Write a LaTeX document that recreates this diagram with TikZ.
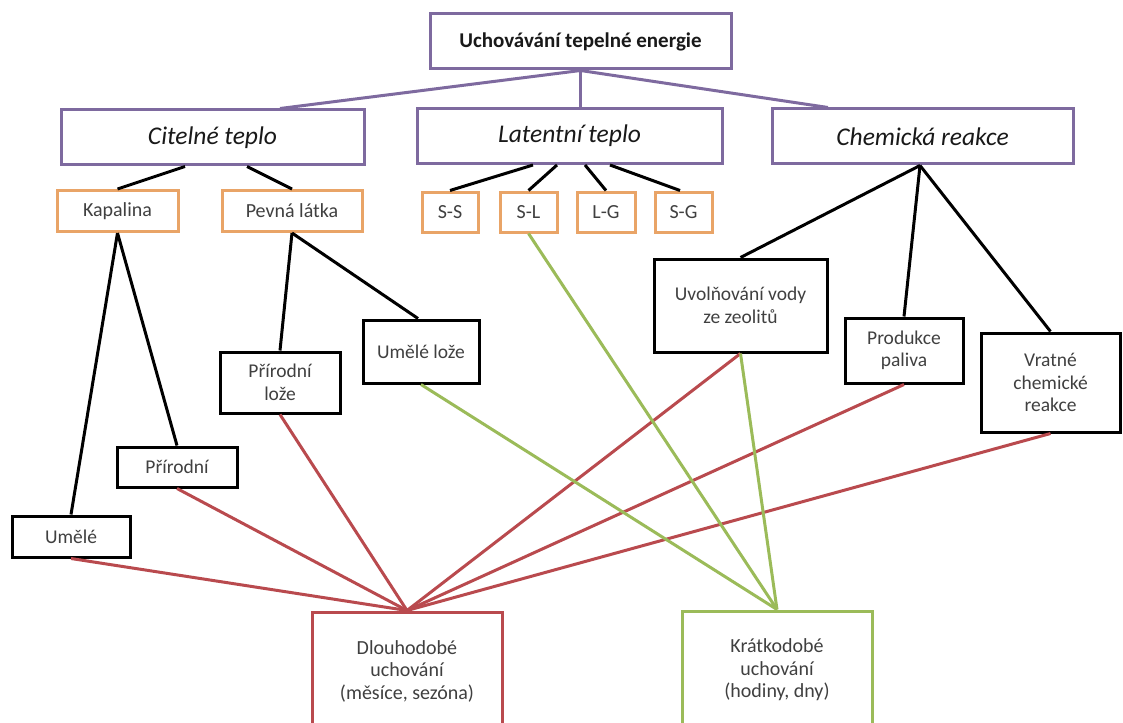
\documentclass[tikz,border=0pt]{standalone}
\usepackage{fontspec}
\setmainfont{Carlito}
\usepackage{xcolor}
\usetikzlibrary{positioning}

\definecolor{lila}{HTML}{7E6A9F}
\definecolor{oranz}{HTML}{E9A467}
\definecolor{cerv}{HTML}{B94A4E}
\definecolor{zel}{HTML}{9BBB59}

\begin{document}
\begin{tikzpicture}[
  x=1pt, y=-1pt,
  box/.style={draw, line width=3pt, fill=white, align=center, inner sep=2pt, text=black!75},
  head/.style={box, draw=lila, minimum height=55pt, text=black!90, font=\fontsize{25.5}{29}\selectfont\itshape},
  sub/.style={box, draw=oranz, minimum height=41pt, font=\fontsize{20}{23}\selectfont},
  leaf/.style={box, draw=black, font=\fontsize{19.5}{22.5}\selectfont},
  longst/.style={box, draw=cerv, minimum width=190pt, minimum height=118pt, font=\fontsize{20}{22.5}\selectfont},
  shortst/.style={box, draw=zel, minimum width=190pt, minimum height=118pt, font=\fontsize{20}{22.5}\selectfont},
  pline/.style={line width=3pt, lila},
  bline/.style={line width=3pt, black},
  rline/.style={line width=3pt, cerv},
  gline/.style={line width=3pt, zel},
]
\useasboundingbox (0,0) rectangle (1123,722);
\clip (0,0) rectangle (1123,722);
% top
\node[box, draw=lila, minimum width=301pt, minimum height=55pt, text=black!90,
      font=\fontsize{21}{25}\selectfont\bfseries] (top) at (580.5,41.5) {Uchovávání tepelné energie};
% three kinds of storage
\node[head, minimum width=303pt] (cit) at (212.5,137.5) {Citelné teplo};
\node[head, minimum width=305pt] (lat) at (569.5,136) {Latentní teplo};
\node[head, minimum width=301pt] (chem) at (922.5,136.5) {Chemická reakce};
% sensible heat
\node[sub, minimum width=121pt] (kap) at (117.5,211) {Kapalina};
\node[sub, minimum width=140pt] (pev) at (292,211) {Pevná látka};
\node[leaf, minimum width=118pt, minimum height=41pt] (umele) at (71,536.5) {Umělé};
\node[leaf, minimum width=120pt, minimum height=40pt] (prir) at (177,467) {Přírodní};
\node[leaf, minimum width=120pt, minimum height=61pt] (prlo) at (280,382.5) {Přírodní\\lože};
\node[leaf, minimum width=116pt, minimum height=63pt] (umlo) at (421,351.5) {Umělé lože};
% latent heat
\node[sub, minimum width=56pt, minimum height=40pt] (ss) at (450,212) {S-S};
\node[sub, minimum width=57pt, minimum height=40pt] (sl) at (528.5,212) {S-L};
\node[sub, minimum width=58pt, minimum height=40pt] (lg) at (606,212) {L-G};
\node[sub, minimum width=57pt, minimum height=40pt] (sg) at (683.5,212) {S-G};
% chemical reaction
\node[leaf, minimum width=173pt, minimum height=93pt] (uvol) at (740.5,305.5) {Uvolňování vody\\ze zeolitů};
\node[leaf, minimum width=118pt, minimum height=65pt] (prod) at (904,350.5) {Produkce\\paliva};
\node[leaf, minimum width=139pt, minimum height=99pt] (vrat) at (1050.5,382.5) {Vratné\\chemické\\reakce};
% duration
\node[longst] (dlou) at (407,671) {Dlouhodobé\\uchování\\(měsíce, sezóna)};
\node[shortst] (krat) at (777,670) {Krátkodobé\\uchování\\(hodiny, dny)};
% purple links
\draw[pline] (top.south) -- ([xshift=67.5pt]cit.north);
\draw[pline] (top.south) -- (top.south |- lat.north);
\draw[pline] (top.south) -- ([xshift=-94.5pt]chem.north);
% black links
\draw[bline] ([xshift=-27.5pt]cit.south) -- (kap.north);
\draw[bline] ([xshift=34.5pt]cit.south) -- (pev.north);
\draw[bline] ([xshift=-36.5pt]lat.south) -- (ss.north);
\draw[bline] ([xshift=-12.5pt]lat.south) -- (sl.north);
\draw[bline] ([xshift=15.5pt]lat.south) -- (lg.north);
\draw[bline] ([xshift=40.5pt]lat.south) -- ([xshift=-3.5pt]sg.north);
\draw[bline] ([xshift=-2.5pt]chem.south) -- (uvol.north);
\draw[bline] ([xshift=-2.5pt]chem.south) -- (prod.north);
\draw[bline] ([xshift=-2.5pt]chem.south) -- (vrat.north);
\draw[bline] (kap.south) -- (umele.north);
\draw[bline] (kap.south) -- (prir.north);
\draw[bline] (pev.south) -- (prlo.north);
\draw[bline] (pev.south) -- ([xshift=-3pt]umlo.north);
% long-term (red)
\foreach \n in {umele,prir,prlo,uvol,prod,vrat}
  \draw[rline] (\n.south) -- (dlou.north);
% short-term (green)
\foreach \n in {sl,umlo,uvol}
  \draw[gline] (\n.south) -- (krat.north);
\end{tikzpicture}
\end{document}
